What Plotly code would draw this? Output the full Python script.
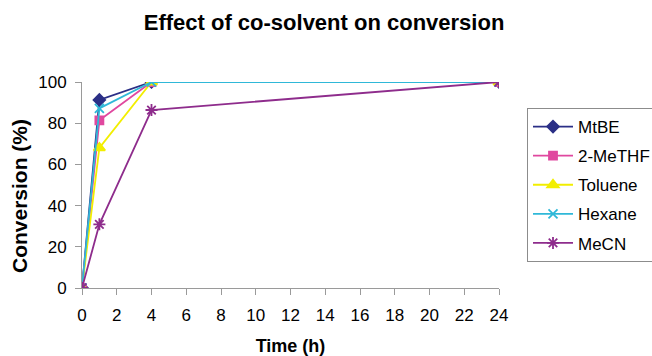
import plotly.graph_objects as go

# Reaction time (h) and conversion (%) for each co-solvent
time_h = [0, 1, 4, 24]
mtbe = [0, 91.3, 100, 100]
methf = [0, 81.4, 100, 100]
toluene = [0, 68, 100, 100]
hexane = [0, 87.2, 100, 100]
mecn = [0, 30.9, 86.4, 100]

series = [
    ("MtBE", mtbe, "#2B2F86", "diamond", 9),
    ("2-MeTHF", methf, "#E0489F", "square", 8),
    ("Toluene", toluene, "#F2EE00", "triangle-up", 10),
    ("Hexane", hexane, "#2FB8D8", "x-thin-open", 9),
    ("MeCN", mecn, "#8E2C8C", "asterisk-open", 10),
]

fig = go.Figure()
for name, vals, color, sym, size in series:
    fig.add_trace(go.Scatter(
        x=time_h, y=vals, name=name, mode="lines+markers",
        legendgroup=name,
        line=dict(color=color, width=1.8),
        marker=dict(symbol=sym, size=size, color=color,
                    line=dict(color=color, width=1.8)),
    ))

W, H = 652, 356
axis_gray = "#9a9a9a"
fig.update_layout(
    width=W, height=H,
    margin=dict(l=82, r=153, t=82, b=68, autoexpand=False),
    paper_bgcolor="white", plot_bgcolor="white",
    font=dict(family="Liberation Sans, Arial, sans-serif", color="black", size=17),
    title=dict(text="<b>Effect of co-solvent on conversion</b>",
               x=0.497, xanchor="center", y=0.936, yanchor="middle",
               font=dict(size=22)),
    xaxis=dict(range=[0, 24], tickmode="array", tickvals=list(range(0, 25, 2)),
               showline=True, linecolor=axis_gray, linewidth=1,
               ticks="outside", tickcolor=axis_gray, ticklen=6,
               ticklabelstandoff=6,
               showgrid=False, zeroline=False,
               title=dict(text="<b>Time (h)</b>", font=dict(size=18), standoff=14)),
    yaxis=dict(range=[0, 100], tickmode="array", tickvals=list(range(0, 101, 20)),
               showline=True, linecolor=axis_gray, linewidth=1,
               ticks="outside", tickcolor=axis_gray, ticklen=6,
               ticklabelstandoff=5,
               showgrid=False, zeroline=False),
    legend=dict(x=(527 - 82) / 417, y=(288 - 108) / 206, xanchor="left", yanchor="top",
                bordercolor="#8c8c8c", borderwidth=1, bgcolor="white",
                font=dict(size=17), itemwidth=40, tracegroupgap=4),
    showlegend=True,
)

# Vertical y-axis title, placed a little below the plot's vertical centre
fig.add_annotation(
    text="<b>Conversion (%)</b>", textangle=-90,
    xref="paper", yref="paper",
    x=(19 - 82) / 417, y=(288 - 196) / 206,
    xanchor="center", yanchor="middle", showarrow=False,
    font=dict(size=21),
)

fig.write_html("out.html")
